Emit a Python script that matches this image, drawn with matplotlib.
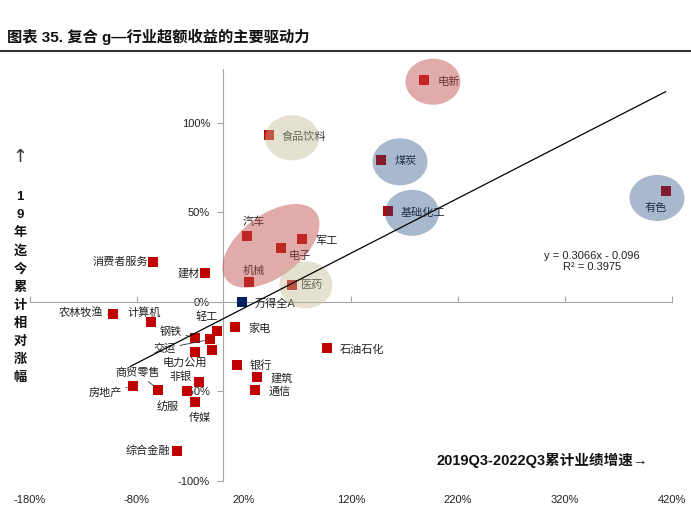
import numpy as np
import matplotlib
matplotlib.use("Agg")
import matplotlib.pyplot as plt
from matplotlib.patches import Ellipse
from matplotlib.transforms import Affine2D
from matplotlib.ticker import FuncFormatter

plt.rcParams['font.family'] = ['Liberation Sans', 'Noto Sans CJK SC', 'DejaVu Sans']

# industries: 2019Q3-2022Q3 cumulative earnings growth (x) vs relative return since 2019 (y)
names = ['电新', '食品饮料', '煤炭', '基础化工', '有色', '汽车', '军工', '电子', '机械', '医药',
         '建材', '消费者服务', '农林牧渔', '计算机', '轻工', '钢铁', '交运', '电力公用', '综合',
         '家电', '石油石化', '银行', '建筑', '通信', '商贸零售', '房地产', '非银', '纺服', '传媒',
         '综合金融']
growth = [1.88, 0.43, 1.48, 1.55, 4.14, 0.23, 0.74, 0.55, 0.25, 0.65,
          -0.16, -0.65, -1.02, -0.67, -0.05, -0.26, -0.12, -0.26, -0.10,
          0.12, 0.98, 0.13, 0.32, 0.30, -0.60, -0.84, -0.22, -0.33, -0.26,
          -0.43]
excess = [1.24, 0.93, 0.79, 0.51, 0.62, 0.37, 0.35, 0.30, 0.11, 0.095,
          0.16, 0.22, -0.07, -0.11, -0.16, -0.20, -0.21, -0.28, -0.27,
          -0.14, -0.26, -0.35, -0.42, -0.49, -0.49, -0.47, -0.45, -0.50, -0.56,
          -0.83]
bench_name = '万得全A'
bench_x, bench_y = 0.18, 0.0

slope, intercept, r2 = 0.3066, -0.096, 0.3975
trend_range = [-0.86, 4.14]

xticks = [-1.8, -0.8, 0.2, 1.2, 2.2, 3.2, 4.2]
yticks = [-1.0, -0.5, 0.0, 0.5, 1.0]

# label placement: (dx, dy) in pixels, alignment
label_pos = {
    '电新': (14, -2, 'left'), '食品饮料': (13, -1, 'left'), '煤炭': (14, -1, 'left'),
    '基础化工': (12, -2, 'left'), '有色': (-10, -17, 'center'), '汽车': (6, 14, 'center'),
    '军工': (13, -2, 'left'), '电子': (7, -8, 'left'), '机械': (4, 11, 'center'),
    '医药': (9, 0, 'left'), '建材': (-6, 0, 'right'), '消费者服务': (-5, 1, 'right'),
    '农林牧渔': (-10, 2, 'right'), '计算机': (-7, 9, 'center'), '轻工': (-11, 14, 'center'),
    '钢铁': (-13, 6, 'right'), '交运': (-34, -9, 'right'), '电力公用': (-10, -11, 'center'),
    '家电': (13, -2, 'left'), '石油石化': (12, -1, 'left'), '银行': (13, -1, 'left'),
    '建筑': (14, -1, 'left'), '通信': (14, -2, 'left'), '商贸零售': (-21, 17, 'center'),
    '房地产': (-11, -7, 'right'), '非银': (-19, 6, 'center'), '纺服': (-20, -15, 'center'),
    '传媒': (5, -16, 'center'), '综合金融': (-7, 0, 'right'),
}
leaders = ['交运', '商贸零售', '钢铁', '农林牧渔', '房地产']

fig = plt.figure(figsize=(6.91, 5.07), dpi=100)
ax = fig.add_axes([30/691, 26/507, 642/691, 412/507])
ax.set_xlim(-1.8, 4.2)
ax.set_ylim(-1.0, 1.3)

axis_gray = '#A6A6A6'
for s in ['top', 'right']:
    ax.spines[s].set_visible(False)
ax.spines['left'].set_position(('data', 0))
ax.spines['bottom'].set_position(('data', 0))
ax.spines['left'].set_color(axis_gray)
ax.spines['bottom'].set_color(axis_gray)

ax.set_yticks(yticks)
ax.yaxis.set_major_formatter(FuncFormatter(lambda v, p: f'{v*100:.0f}%'))
ax.tick_params(axis='y', direction='out', length=4, color=axis_gray, labelsize=8, pad=5,
               labelcolor='#222222')
ax.set_xticks(xticks)
ax.tick_params(axis='x', direction='in', length=4, color=axis_gray, labelbottom=False)

sec = ax.secondary_xaxis('bottom')
sec.set_xticks(xticks)
sec.xaxis.set_major_formatter(FuncFormatter(lambda v, p: f'{v*100:.0f}%'))
sec.spines['bottom'].set_visible(False)
sec.tick_params(axis='x', length=0, labelsize=8, pad=10, labelcolor='#222222')

# points
ax.scatter(growth, excess, marker='s', s=42, color='#C00000', zorder=3, linewidths=0)
ax.scatter([bench_x], [bench_y], marker='s', s=42, color='#002060', zorder=3, linewidths=0)

for n, x, y in zip(names, growth, excess):
    if n not in label_pos:
        continue
    dx, dy, ha = label_pos[n]
    arrow = None
    if n in leaders:
        arrow = dict(arrowstyle='-', color='#333333', lw=0.6, shrinkA=1, shrinkB=4)
    ax.annotate(n, (x, y), xytext=(dx, dy), textcoords='offset pixels', ha=ha, va='center',
                fontsize=8, color='#222222', zorder=4, arrowprops=arrow)
ax.annotate(bench_name, (bench_x, bench_y), xytext=(13, -2), textcoords='offset pixels',
            ha='left', va='center', fontsize=8, color='#222222', zorder=4)

# trend line
tx = np.array(trend_range)
ax.plot(tx, slope*tx + intercept, color='black', lw=0.9, zorder=6)
ax.text(3.45, 0.225, f'y = {slope}x - {abs(intercept)}\nR² = {r2}', ha='center', va='center',
        fontsize=8, color='#222222', linespacing=1.1)

# highlight ellipses (sizes in pixels)
PX, PY = 107, 179
etr = Affine2D().scale(1/PX, 1/PY) + ax.transData
ellipses = [
    (1.966, 1.229, 55, 46, 0, '#C0504D', 0.48),
    (0.649, 0.916, 54, 45, 0, '#C4BD97', 0.45),
    (1.658, 0.782, 55, 47, 0, '#1F497D', 0.38),
    (1.770, 0.497, 54, 46, 0, '#1F497D', 0.38),
    (4.06, 0.58, 55, 46, 0, '#1F497D', 0.38),
    (0.452, 0.313, 112, 62, 37, '#C0504D', 0.48),
    (0.779, 0.095, 53, 47, 0, '#C4BD97', 0.45),
]
for cx, cy, w, h, a, c, al in ellipses:
    ax.add_patch(Ellipse((cx*PX, cy*PY), w, h, angle=a, transform=etr, facecolor=c,
                         edgecolor='none', alpha=al, zorder=5, clip_on=False))

# titles
fig.text(7/691, 1 - 37/507, '图表 35. 复合 g—行业超额收益的主要驱动力', fontsize=11,
         fontweight='bold', ha='left', va='center', color='#111111')
fig.add_artist(plt.Line2D([0, 1], [1 - 51/507, 1 - 51/507], color='#333333', lw=1.5))

fig.text(20/691, 1 - 157/507, '↑', fontsize=13, ha='center', va='center', color='#333333',
         family='DejaVu Sans')
for i, ch in enumerate('19年迄今累计相对涨幅'):
    fig.text(20/691, 1 - (197 + i*18.1)/507, ch, fontsize=9.5, fontweight='bold',
             ha='center', va='center', color='#111111')
fig.text(648/691, 1 - 460/507, '2019Q3-2022Q3累计业绩增速→', fontsize=10.5,
         fontweight='bold', ha='right', va='center', color='#111111')

fig.savefig('out.png', dpi=100)
